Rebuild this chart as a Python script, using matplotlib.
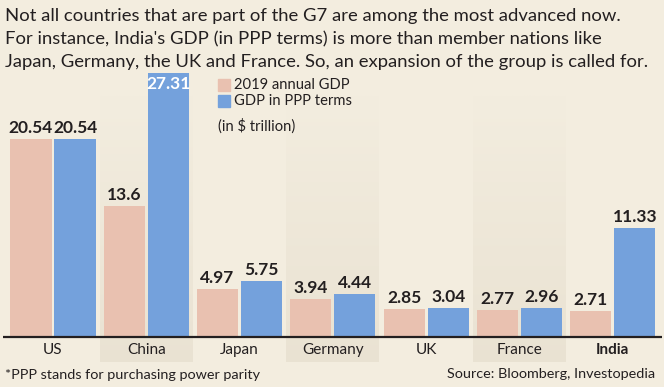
import numpy as np
import matplotlib.pyplot as plt
from matplotlib.colors import LinearSegmentedColormap

# data (in $ trillion)
countries = ['US', 'China', 'Japan', 'Germany', 'UK', 'France', 'India']
gdp_2019 = [20.54, 13.6, 4.97, 3.94, 2.85, 2.77, 2.71]
gdp_ppp = [20.54, 27.31, 5.75, 4.44, 3.04, 2.96, 11.33]
shaded = ['China', 'Germany', 'France']

bg = '#f3eddf'
band = '#e4dccb'
pink = '#e9c1b0'
blue = '#74a1dc'
ink = '#231f20'

plt.rcParams['font.family'] = ['Lato', 'DejaVu Sans']

W, H = 664, 387
fig = plt.figure(figsize=(W / 100, H / 100), dpi=100, facecolor=bg)

# axes: full width, bottom edge at the baseline (pixel 337)
base_px = 337
ax = fig.add_axes([0, (H - base_px) / H, 1, base_px / H])
ax.set_facecolor('none')
ax.axis('off')

period = 93.3
x0 = 53
ax.set_xlim(-x0 / period, (W - x0) / period)
px_per_unit = 9.66
ax.set_ylim(0, base_px / px_per_unit)

x = np.arange(len(countries))
bw = 0.44
off = 0.236

# shaded bands with a vertical fade
cmap = LinearSegmentedColormap.from_list('fade', [band, bg])
grad = np.linspace(0, 1, 100).reshape(-1, 1)
band_top = (base_px - 95) / px_per_unit
band_bot = -(362 - base_px) / px_per_unit
for i, c in enumerate(countries):
    if c in shaded:
        ax.imshow(grad, cmap=cmap, aspect='auto', origin='lower',
                  extent=[i - 0.5, i + 0.49, band_bot, band_top],
                  clip_on=False, zorder=0, vmin=-0.6, vmax=1)

ax.bar(x - off, gdp_2019, bw, color=pink, zorder=2)
ax.bar(x + off, gdp_ppp, bw, color=blue, zorder=2)

ax.plot([3 / period - x0 / period, 662 / period - x0 / period], [0, 0],
        color=ink, lw=1.6, zorder=3, clip_on=False, solid_capstyle='butt')

lab_pad = 3 / px_per_unit
for i in range(len(countries)):
    ax.text(x[i] - off, gdp_2019[i] + lab_pad, f'{gdp_2019[i]:g}', ha='center', va='bottom',
            fontsize=12.5, fontweight='bold', color=ink, zorder=4)
    if gdp_ppp[i] == max(gdp_ppp):
        ax.text(x[i] + off, gdp_ppp[i] - lab_pad, f'{gdp_ppp[i]:g}', ha='center', va='top',
                fontsize=12.5, fontweight='bold', color='white', zorder=4)
    else:
        ax.text(x[i] + off, gdp_ppp[i] + lab_pad, f'{gdp_ppp[i]:g}', ha='center', va='bottom',
                fontsize=12.5, fontweight='bold', color=ink, zorder=4)
    ax.text(x[i], -(350 - base_px) / px_per_unit, countries[i], ha='center', va='center',
            fontsize=11, color=ink, fontweight='bold' if countries[i] == 'India' else 'normal',
            zorder=4)


def fx(p):
    return p / W


def fy(p):
    return 1 - p / H


title = ['Not all countries that are part of the G7 are among the most advanced now.',
         "For instance, India's GDP (in PPP terms) is more than member nations like",
         'Japan, Germany, the UK and France. So, an expansion of the group is called for.']
for k, line in enumerate(title):
    fig.text(fx(5), fy(16 + 23 * k), line, ha='left', va='center', fontsize=13.3, color=ink)

# legend
for k, (lbl, col) in enumerate([('2019 annual GDP', pink), ('GDP in PPP terms', blue)]):
    fig.patches.append(plt.Rectangle((fx(218), fy(91 + 16 * k)), 12 / W, 12 / H,
                                     transform=fig.transFigure, color=col))
    fig.text(fx(234), fy(85 + 16 * k), lbl, ha='left', va='center', fontsize=10.6, color=ink)
fig.text(fx(218), fy(126), '(in $ trillion)', ha='left', va='center', fontsize=10.6, color=ink)

fig.text(fx(5), fy(375), '*PPP stands for purchasing power parity', ha='left', va='center',
         fontsize=10.4, color=ink)
fig.text(fx(655), fy(374), 'Source: Bloomberg, Investopedia', ha='right', va='center',
         fontsize=10.4, color=ink)

fig.savefig('out.png', dpi=100, facecolor=bg)
